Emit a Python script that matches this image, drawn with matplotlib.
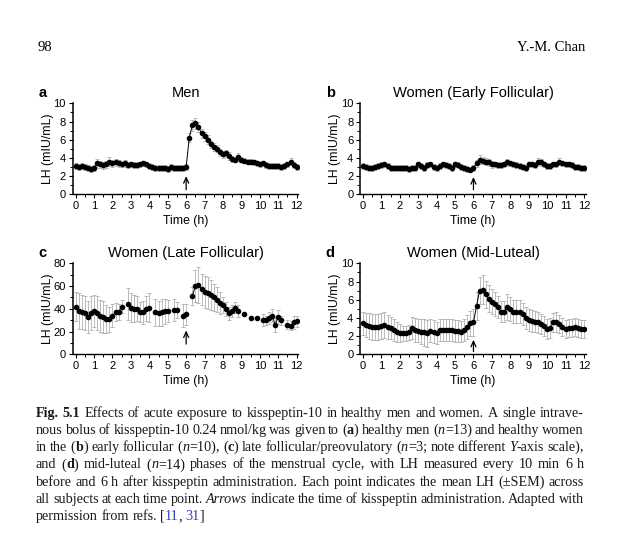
import re
import numpy as np
import matplotlib.pyplot as plt

nan = np.nan

# sampling every 10 min over 12 h
minutes = np.arange(0, 730, 10)
hours = minutes / 60

men_lh = [3.1, 3.0, 3.1, 3.0, 2.9, 2.8, 2.9,
          3.4, 3.3, 3.2, 3.3, 3.6, 3.4,
          3.5, 3.4, 3.3, 3.4, 3.2, 3.3,
          3.2, 3.2, 3.3, 3.4, 3.3, 3.1,
          3.0, 2.9, 2.9, 2.9, 2.9, 2.8,
          3.0, 2.9, 2.9, 2.9, 2.9, 3.0,
          6.2, 7.6, 7.8, 7.4, 6.7, 6.4,
          6.0, 5.5, 5.2, 5.0, 4.6, 4.4,
          4.5, 4.2, 3.9, 3.8, 4.1, 3.8,
          3.7, 3.6, 3.6, 3.5, 3.4, 3.3,
          3.4, 3.2, 3.1, 3.1, 3.1, 3.1,
          3.0, 3.1, 3.3, 3.6, 3.2, 3.0]
men_sem = [0.3, 0.3, 0.3, 0.3, 0.3, 0.3, 0.3,
           0.5, 0.4, 0.4, 0.4, 0.5, 0.4,
           0.4, 0.4, 0.3, 0.4, 0.3, 0.3,
           0.3, 0.3, 0.3, 0.3, 0.3, 0.3,
           0.3, 0.3, 0.3, 0.3, 0.3, 0.3,
           0.3, 0.3, 0.3, 0.3, 0.3, 0.3,
           0.5, 0.6, 0.6, 0.6, 0.5, 0.5,
           0.5, 0.4, 0.4, 0.4, 0.4, 0.4,
           0.4, 0.4, 0.3, 0.3, 0.4, 0.3,
           0.3, 0.3, 0.3, 0.3, 0.3, 0.3,
           0.3, 0.3, 0.3, 0.3, 0.3, 0.3,
           0.3, 0.3, 0.3, 0.4, 0.3, 0.3]

early_lh = [3.1, 3.0, 2.9, 2.9, 3.0, 3.1, 3.2,
            3.3, 3.1, 2.9, 2.9, 2.9, 2.9,
            2.9, 2.9, 2.8, 2.9, 2.9, 3.3,
            3.1, 2.9, 3.2, 3.3, 3.0, 2.9,
            3.1, 3.3, 3.2, 3.1, 2.9, 3.3,
            3.2, 3.0, 2.9, 2.8, 2.7, 2.9,
            3.4, 3.8, 3.7, 3.6, 3.5, 3.3,
            3.3, 3.2, 3.2, 3.3, 3.5, 3.4,
            3.3, 3.2, 3.1, 3.0, 2.9, 3.3,
            3.3, 3.2, 3.6, 3.5, 3.3, 3.1,
            3.1, 3.3, 3.3, 3.6, 3.4, 3.3,
            3.3, 3.2, 3.0, 3.0, 2.9, 2.9]
early_sem = [0.3, 0.3, 0.3, 0.3, 0.3, 0.3, 0.3,
             0.3, 0.3, 0.3, 0.3, 0.3, 0.3,
             0.3, 0.3, 0.3, 0.3, 0.3, 0.3,
             0.3, 0.3, 0.3, 0.3, 0.3, 0.3,
             0.3, 0.3, 0.3, 0.3, 0.3, 0.3,
             0.3, 0.3, 0.3, 0.3, 0.3, 0.3,
             0.4, 0.5, 0.4, 0.4, 0.4, 0.4,
             0.3, 0.3, 0.3, 0.3, 0.4, 0.3,
             0.3, 0.3, 0.3, 0.3, 0.3, 0.3,
             0.3, 0.3, 0.4, 0.4, 0.3, 0.3,
             0.3, 0.3, 0.3, 0.4, 0.3, 0.3,
             0.3, 0.3, 0.3, 0.3, 0.3, 0.3]

late_lh = [42, 38, 37, 36, 33, 36, 38,
           36, 34, 33, 31, 31, 34,
           37, 37, 42, nan, 44, 41,
           40, 40, 37, 37, 40, 41,
           nan, 37, 36, 37, 38, 38,
           nan, 39, 39, nan, 34, 35,
           nan, 51, 60, 61, 57, 55,
           54, 52, 50, 48, 45, 43,
           40, 36, 38, 41, 38, nan,
           35, nan, 32, nan, 32, nan,
           30, 30, 32, 34, 26, 33,
           30, nan, 26, 25, 28, 29]
late_sem = [13, 16, 15, 15, 14, 15, 14,
            15, 14, 14, 12, 11, 10,
            8, 7, 6, nan, 14, 13,
            12, 11, 9, 10, 11, 13,
            nan, 12, 11, 12, 11, 10,
            nan, 10, 7, nan, 10, 9,
            nan, 8, 14, 16, 14, 14,
            14, 13, 12, 11, 10, 7,
            6, 6, 5, 5, 5, nan,
            0, nan, 0, nan, 0, nan,
            5, 4, 5, 6, 6, 6,
            4, nan, 4, 4, 6, 5]

luteal_lh = [3.4, 3.2, 3.1, 3.0, 3.0, 3.0, 3.1,
             3.2, 3.0, 2.9, 2.7, 2.5, 2.3,
             2.3, 2.3, 2.4, 2.9, 2.7, 2.6,
             2.5, 2.4, 2.3, 2.6, 2.5, 2.3,
             2.7, 2.7, 2.7, 2.7, 2.7, 2.6,
             2.6, 2.5, 2.7, 3.0, 3.4, 3.5,
             5.3, 7.0, 7.1, 6.6, 6.1, 5.8,
             5.5, 5.2, 4.7, 4.7, 5.2, 5.0,
             4.7, 4.7, 4.7, 4.4, 4.0, 3.8,
             3.7, 3.6, 3.5, 3.3, 3.1, 2.8,
             2.9, 3.5, 3.5, 3.3, 3.0, 2.8,
             2.9, 2.9, 3.0, 2.9, 2.8, 2.8]
luteal_sem = [1.3, 1.3, 1.4, 1.4, 1.4, 1.4, 1.4,
              1.4, 1.3, 1.2, 1.2, 1.1, 1.0,
              0.8, 0.8, 0.8, 1.2, 1.3, 1.3,
              1.4, 1.5, 1.5, 1.3, 1.3, 1.2,
              1.2, 1.2, 1.2, 1.2, 1.2, 1.2,
              1.2, 1.2, 1.2, 1.3, 1.4, 1.5,
              1.5, 1.5, 1.6, 1.5, 1.5, 1.4,
              1.3, 1.2, 1.2, 1.2, 1.4, 1.3,
              1.3, 1.3, 1.3, 1.2, 1.2, 1.2,
              1.2, 1.2, 1.2, 1.1, 1.1, 1.1,
              1.1, 1.0, 1.1, 1.0, 1.0, 1.0,
              1.0, 1.0, 1.0, 1.0, 1.0, 1.0]

caption_lines = [
    '**Fig.** **5.1**  Effects of acute exposure to kisspeptin-10 in healthy men and women. A single intrave-',
    'nous bolus of kisspeptin-10 0.24 nmol/kg was given to (**a**) healthy men (_n_=13) and healthy women',
    'in the (**b**) early follicular (_n_=10), (**c**) late follicular/preovulatory (_n_=3; note different _Y_-axis scale),',
    'and (**d**) mid-luteal (_n_=14) phases of the menstrual cycle, with LH measured every 10 min 6 h',
    'before and 6 h after kisspeptin administration. Each point indicates the mean LH (\u00b1SEM) across',
    'all subjects at each time point. _Arrows_ indicate the time of kisspeptin administration. Adapted with',
    'permission from refs. [{11}, {31}]',
]

W, H = 630, 540
def fx(x):
    return x / W
def fy(y):
    return 1 - y / H

plt.rcParams['font.family'] = 'Liberation Sans'
fig = plt.figure(figsize=(6.3, 5.4), dpi=100)


def panel(box, mean, sem, ymax, ystep, title, letter, arrow):
    l, t, r, b = box
    ax = fig.add_axes([fx(l), fy(b), (r - l) / W, (b - t) / H])
    ax.errorbar(hours, mean, yerr=sem, fmt='none', ecolor='#b0b0b0',
                elinewidth=0.6, capsize=1.4, capthick=0.6, zorder=2)
    ax.plot(hours, mean, '-o', color='black', lw=0.7, ms=3.0, zorder=3)
    ax.set_xlim(-0.15, 12.1)
    ax.set_ylim(0, ymax)
    ax.set_xticks(np.arange(0, 13))
    ax.set_xticks(np.arange(0.5, 12, 1), minor=True)
    ax.set_yticks(np.arange(0, ymax + 1, ystep))
    ax.set_yticks(np.arange(ystep / 2, ymax, ystep), minor=True)
    ax.tick_params(which='major', length=3, width=0.8, labelsize=8, pad=2)
    ax.tick_params(which='minor', length=2, width=0.7)
    ax.spines['top'].set_visible(False)
    ax.spines['right'].set_visible(False)
    ax.spines['left'].set_linewidth(1.1)
    ax.spines['bottom'].set_linewidth(1.0)
    ax.annotate('', xy=(6, arrow[1]), xytext=(6, arrow[0]),
                arrowprops=dict(arrowstyle='->,head_length=0.4,head_width=0.18',
                                lw=0.9, color='black', shrinkA=0, shrinkB=0))
    cx = (l + r) / 2
    fig.text(fx(cx), fy(t - 10), title, ha='center', va='center', fontsize=10.5)
    fig.text(fx(l - 30), fy(t - 10), letter, ha='center', va='center',
             fontsize=10.5, fontweight='bold')
    fig.text(fx(l - 25), fy((t + b) / 2), 'LH (mIU/mL)', rotation=90,
             ha='center', va='center', fontsize=8.8)
    fig.text(fx(cx), fy(b + 27), 'Time (h)', ha='center', va='center', fontsize=8.8)
    return ax


panel((72.9, 103.3, 298.5, 194.3), men_lh, men_sem, 10, 2, 'Men', 'a', (0.5, 2.0))
panel((360.2, 103.3, 585.8, 194.3), early_lh, early_sem, 10, 2,
      'Women (Early Follicular)', 'b', (0.5, 1.9))
panel((72.9, 263.3, 298.5, 354.3), late_lh, late_sem, 80, 20,
      'Women (Late Follicular)', 'c', (9, 21))
panel((360.2, 263.3, 585.8, 354.3), luteal_lh, luteal_sem, 10, 2,
      'Women (Mid-Luteal)', 'd', (0.3, 1.6))

# page header
fig.text(fx(37), fy(51), '98', family='Liberation Serif', fontsize=10.5, va='baseline')
fig.text(fx(585), fy(51), 'Y.-M. Chan', family='Liberation Serif', fontsize=10.5,
         va='baseline', ha='right')

# justified caption, word by word
TOKEN = re.compile(r'\*\*(.+?)\*\*|_(.+?)_|\{(.+?)\}|([^*_{}]+)')


def runs(word):
    out = []
    for m in TOKEN.finditer(word):
        if m.group(1):
            out.append((m.group(1), dict(fontweight='bold')))
        elif m.group(2):
            out.append((m.group(2), dict(fontstyle='italic')))
        elif m.group(3):
            out.append((m.group(3), dict(color='#3340c0')))
        else:
            out.append((m.group(4), {}))
    return out


renderer = fig.canvas.get_renderer()
cap_left, cap_right = 36, 584
for i, line in enumerate(caption_lines):
    y = fy(417 + 17.15 * i)
    items = []
    for w in line.split():
        texts = []
        widths = []
        for s, kw in runs(w):
            style = dict(family='Liberation Serif', fontsize=10.2, va='baseline', color='#1a1a1a')
            style.update(kw)
            tx = fig.text(0, y, s, **style)
            texts.append(tx)
            widths.append(tx.get_window_extent(renderer).width)
        items.append((texts, widths))
    total = sum(sum(ws) for _, ws in items)
    if i < len(caption_lines) - 1:
        gap = (cap_right - cap_left - total) / (len(items) - 1)
    else:
        gap = 3.5
    x = cap_left
    for texts, widths in items:
        for tx, wd in zip(texts, widths):
            tx.set_x(fx(x))
            x += wd
        x += gap

fig.savefig('out.png', dpi=100)
